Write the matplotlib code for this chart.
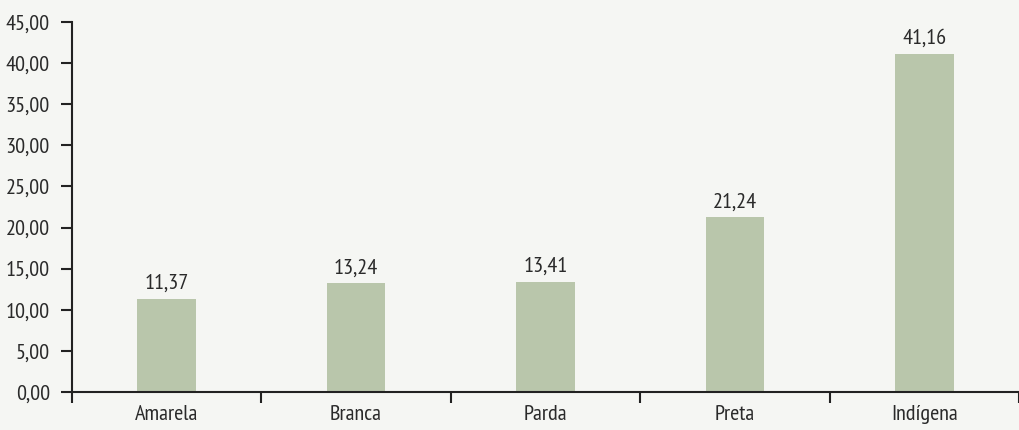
import numpy as np
import matplotlib
matplotlib.use('Agg')
import matplotlib.pyplot as plt
from matplotlib.ticker import FuncFormatter
from matplotlib import font_manager

categorias = ['Amarela', 'Branca', 'Parda', 'Preta', 'Indígena']
valores = [11.37, 13.24, 13.41, 21.24, 41.16]
y_ticks = [0, 5, 10, 15, 20, 25, 30, 35, 40, 45]

## look for a condensed font (the original uses a narrow typeface)
arquivo = None
for chave in ['SansNarrow', 'Narrow', 'SansCondensed', 'Condensed']:
	for f in font_manager.fontManager.ttflist:
		nome = f.fname.replace('-', '').replace('_', '')
		if chave in nome and 'Bold' not in nome and 'Italic' not in nome and 'Oblique' not in nome:
			arquivo = f.fname
			break
	if arquivo:
		break
if arquivo:
	fp = font_manager.FontProperties(fname=arquivo, size=16)
else:
	fp = font_manager.FontProperties(family='DejaVu Sans', size=12)

fundo = '#f5f6f3'
cor_barra = '#b9c6ab'
cor_texto = '#2a2a2a'

fig = plt.figure(figsize=(10.19, 4.30), dpi=100, facecolor=fundo)
ax = fig.add_axes([72/1019, 38/430, 947/1019, 370/430], facecolor=fundo)

x = np.arange(len(categorias))
ax.bar(x, valores, width=0.31, color=cor_barra, zorder=2)

for xi, v in zip(x, valores):
	ax.annotate(('%.2f' % v).replace('.', ','), (xi, v), xytext=(0, 4),
		textcoords='offset points', ha='center', va='bottom',
		fontproperties=fp, color=cor_texto)

ax.set_xlim(-0.5, 4.46)
ax.set_ylim(0, 45)
ax.set_yticks(y_ticks)
ax.yaxis.set_major_formatter(FuncFormatter(lambda v, p: ('%.2f' % v).replace('.', ',')))

## category labels centred, tick marks at the boundaries
ax.set_xticks(np.arange(-0.5, 5, 1.0))
ax.set_xticklabels([])
ax.set_xticks(x, minor=True)
ax.set_xticklabels(categorias, minor=True)
ax.tick_params(axis='x', which='minor', length=0, pad=9, labelcolor=cor_texto)
ax.tick_params(axis='x', which='major', length=8, width=1.5, direction='out', color='#222222')
ax.tick_params(axis='y', length=8, width=1.5, direction='out', color='#222222', pad=8,
	labelcolor=cor_texto)
for t in ax.get_xticklabels(minor=True) + ax.get_yticklabels():
	t.set_fontproperties(fp)

for s in ['top', 'right']:
	ax.spines[s].set_visible(False)
for s in ['left', 'bottom']:
	ax.spines[s].set_linewidth(1.5)
	ax.spines[s].set_color('#222222')

fig.savefig('out.png', dpi=100, facecolor=fundo)
plt.close()
